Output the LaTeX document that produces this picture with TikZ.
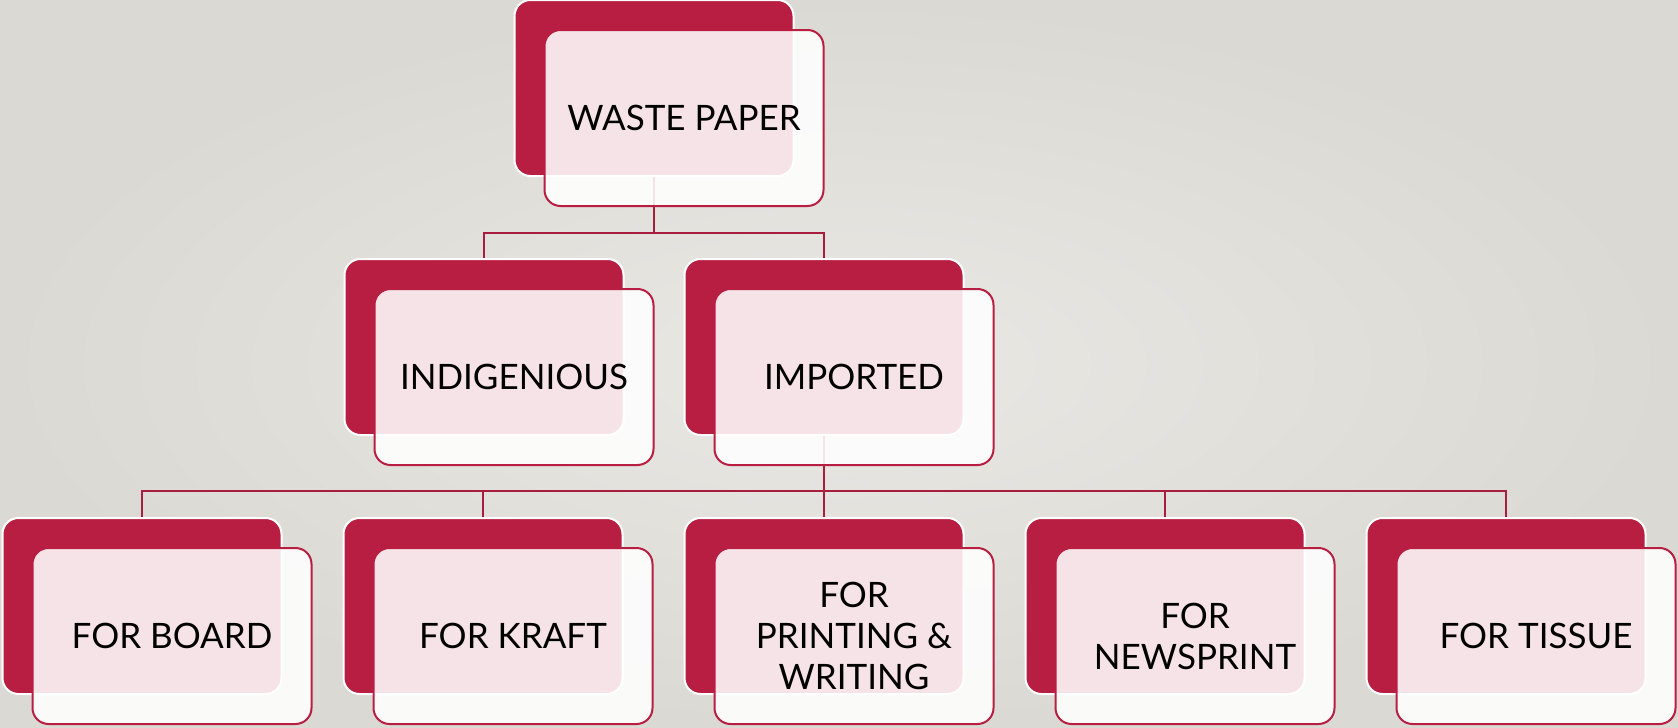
\documentclass[tikz,border=0pt]{standalone}
\usepackage{fontspec}
\setmainfont{Lato}
\usetikzlibrary{calc}
\definecolor{crimson}{HTML}{B81E41}
\definecolor{linecol}{HTML}{A81C3D}
\definecolor{bgin}{HTML}{E9E8E4}
\definecolor{bgout}{HTML}{DBD9D3}
\tikzset{
  backbox/.style={rectangle, rounded corners=8pt, fill=crimson, draw=white, line width=1pt,
    minimum width=139.5pt, minimum height=88pt, inner sep=0pt},
  frontbox/.style={rectangle, rounded corners=8pt, fill=white, fill opacity=0.88, text opacity=1,
    draw=crimson, line width=1pt, minimum width=139.5pt, minimum height=88pt, inner sep=0pt,
    align=center, font=\fontsize{17.5}{20.5}\selectfont},
  conn/.style={draw=linecol, line width=1pt}
}
\begin{document}
\begin{tikzpicture}[x=0.5pt,y=-0.5pt]
\useasboundingbox (0,0) rectangle (1678,728);
\shade[inner color=bgin, outer color=bgout] (0,0) rectangle (1678,728);
% back boxes
\node[backbox] (wpb) at (654,88) {};
\node[backbox] (indb) at (484,347) {};
\node[backbox] (impb) at (824,347) {};
\node[backbox] (bob) at (142,606) {};
\node[backbox] (krb) at (483,606) {};
\node[backbox] (prb) at (824,606) {};
\node[backbox] (neb) at (1165,606) {};
\node[backbox] (tib) at (1506,606) {};
% connectors
\draw[conn] (wpb.south) -- ++(0,56) -| (indb.north);
\draw[conn] (wpb.south) -- ++(0,56) -| (impb.north);
\draw[conn] (impb.south) -- ++(0,55) -| (bob.north);
\draw[conn] (impb.south) -- ++(0,55) -| (krb.north);
\draw[conn] (impb.south) -- (prb.north);
\draw[conn] (impb.south) -- ++(0,55) -| (neb.north);
\draw[conn] (impb.south) -- ++(0,55) -| (tib.north);
% front boxes
\node[frontbox] (wp) at (684,118) {WASTE PAPER};
\node[frontbox] (ind) at (514,377) {INDIGENIOUS};
\node[frontbox] (imp) at (854,377) {IMPORTED};
\node[frontbox] (bo) at (172,636) {FOR BOARD};
\node[frontbox] (kr) at (513,636) {FOR KRAFT};
\node[frontbox] (pr) at (854,636) {FOR\\PRINTING \&\\WRITING};
\node[frontbox] (ne) at (1195,636) {FOR\\NEWSPRINT};
\node[frontbox] (ti) at (1536,636) {FOR TISSUE};
\end{tikzpicture}
\end{document}
